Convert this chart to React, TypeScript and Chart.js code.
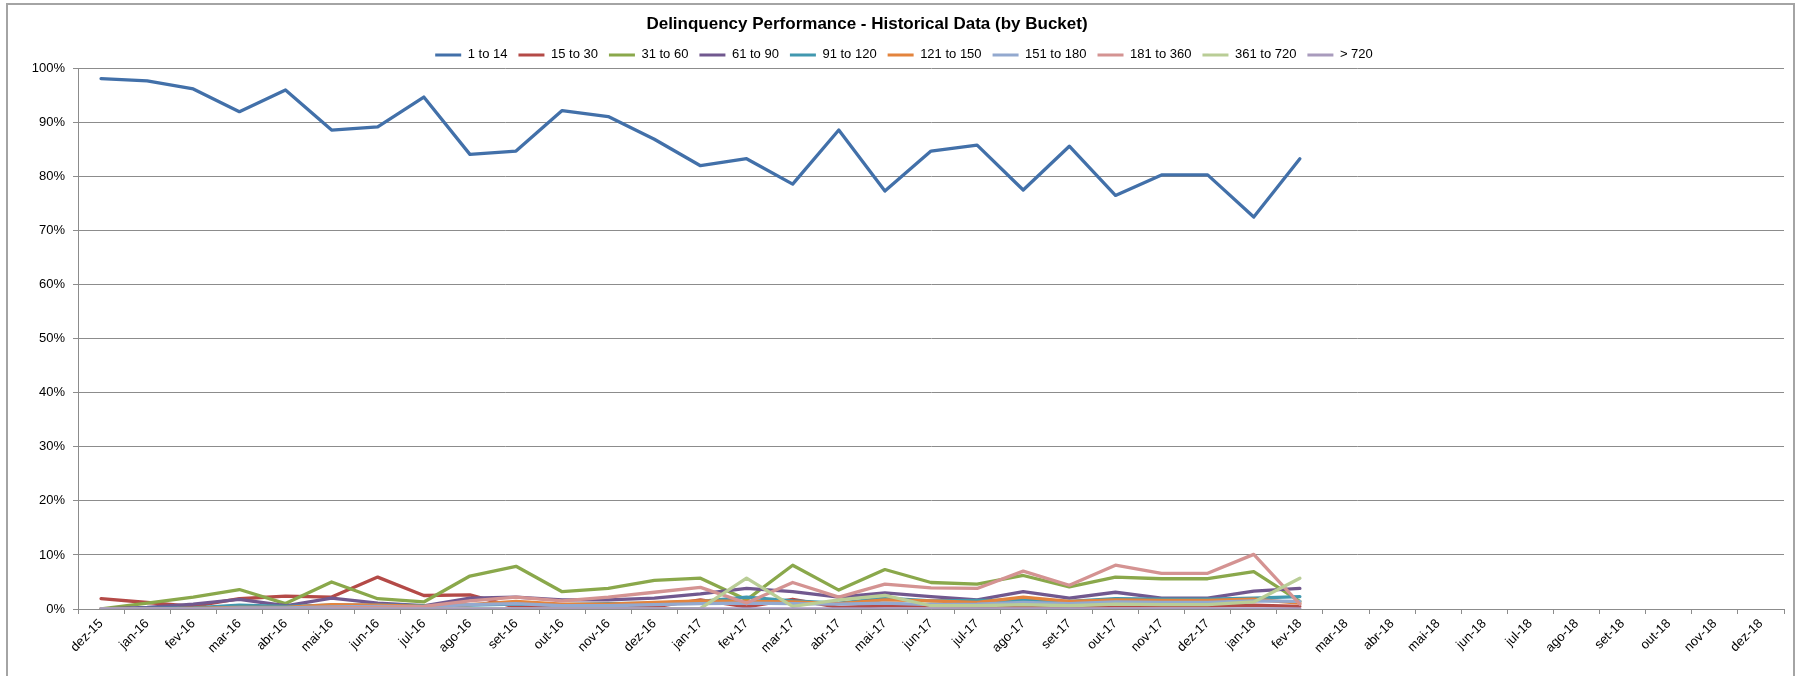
import React, { useEffect, useRef } from "react";
import { Chart, registerables } from "chart.js";

Chart.register(...registerables);

const categories = [
  "dez-15", "jan-16", "fev-16", "mar-16", "abr-16", "mai-16", "jun-16", "jul-16", "ago-16", "set-16",
  "out-16", "nov-16", "dez-16", "jan-17", "fev-17", "mar-17", "abr-17", "mai-17", "jun-17", "jul-17",
  "ago-17", "set-17", "out-17", "nov-17", "dez-17", "jan-18", "fev-18", "mar-18", "abr-18", "mai-18",
  "jun-18", "jul-18", "ago-18", "set-18", "out-18", "nov-18", "dez-18",
];

// values in percent
const b1to14 = [98.1, 97.7, 96.2, 92.0, 96.0, 88.6, 89.2, 94.7, 84.1, 84.7, 92.2, 91.1, 86.9, 82.0, 83.3, 78.6, 88.6, 77.3, 84.7, 85.8, 77.5, 85.6, 76.5, 80.3, 80.3, 72.5, 83.3];
const b15to30 = [1.9, 1.2, 0.5, 1.9, 2.4, 2.2, 5.9, 2.5, 2.6, 0.3, 0.2, 0.3, 0.4, 1.7, 0.4, 1.8, 0.3, 0.6, 0.6, 0.5, 0.6, 0.5, 0.6, 0.6, 0.6, 0.7, 0.5];
const b31to60 = [0.0, 1.1, 2.2, 3.6, 1.0, 5.0, 1.9, 1.3, 6.1, 7.9, 3.2, 3.8, 5.3, 5.7, 1.7, 8.1, 3.5, 7.3, 4.9, 4.6, 6.2, 4.1, 5.9, 5.6, 5.6, 6.9, 1.4];
const b61to90 = [0.0, 0.3, 0.9, 1.8, 0.6, 2.0, 1.1, 0.6, 2.0, 2.2, 1.7, 1.7, 2.0, 2.8, 3.8, 3.2, 2.2, 3.0, 2.3, 1.7, 3.2, 2.0, 3.1, 2.0, 2.0, 3.3, 3.8];
const b91to120 = [0.0, 0.1, 0.2, 0.7, 0.5, 0.7, 0.7, 0.6, 0.7, 0.9, 0.8, 1.0, 1.1, 1.4, 2.2, 1.5, 1.1, 2.0, 1.5, 1.6, 1.6, 1.4, 1.9, 1.8, 1.8, 2.0, 2.3];
const b121to150 = [0.0, 0.0, 0.1, 0.3, 0.3, 0.8, 0.7, 0.5, 0.8, 1.4, 0.9, 0.9, 1.2, 1.5, 1.4, 1.3, 1.0, 1.7, 1.5, 1.2, 2.2, 1.4, 1.7, 1.6, 1.6, 1.8, 1.1];
const b151to180 = [0.0, 0.0, 0.0, 0.2, 0.2, 0.4, 0.5, 0.4, 0.8, 1.0, 0.6, 0.6, 0.8, 1.0, 1.1, 1.0, 0.9, 1.1, 0.8, 0.9, 1.2, 1.0, 1.3, 1.2, 1.2, 1.5, 1.4];
const b181to360 = [0.0, 0.0, 0.0, 0.0, 0.0, 0.2, 0.3, 0.5, 1.5, 2.2, 1.5, 2.2, 3.1, 4.0, 1.1, 4.9, 2.2, 4.6, 3.9, 3.8, 7.0, 4.4, 8.1, 6.6, 6.6, 10.1, 0.9];
const b361to720 = [0.0, 0.0, 0.0, 0.0, 0.0, 0.0, 0.0, 0.0, 0.0, 0.0, 0.0, 0.0, 0.0, 0.1, 5.7, 0.5, 1.7, 2.5, 0.6, 0.6, 0.8, 0.6, 0.9, 0.8, 0.8, 1.3, 5.7];
const bOver720 = [0, 0, 0, 0, 0, 0, 0, 0, 0, 0, 0, 0, 0, 0, 0, 0, 0, 0, 0, 0, 0, 0, 0, 0, 0, 0, 0];

const seriesNames = ["1 to 14", "15 to 30", "31 to 60", "61 to 90", "91 to 120", "121 to 150", "151 to 180", "181 to 360", "361 to 720", "> 720"];
const seriesColors = ["#4270A9", "#B44A47", "#8AA84B", "#71588F", "#4198AF", "#E3843D", "#93A9CF", "#D49392", "#B9CD96", "#A99BBD"];

const titleText = "Delinquency Performance - Historical Data (by Bucket)";

const FONT = "'Liberation Sans', Arial, sans-serif";
const GRID = "#8c8c8c";

export default function App() {
  const ref = useRef<HTMLCanvasElement>(null);

  useEffect(() => {
    if (!ref.current) return;
    const series = [b1to14, b15to30, b31to60, b61to90, b91to120, b121to150, b151to180, b181to360, b361to720, bOver720];

    const shiftTitle = {
      id: "shiftTitle",
      afterLayout(chart: any) {
        const t = chart.titleBlock;
        if (t) {
          t.left -= 37;
          t.right -= 37;
        }
      },
    };

    const chart = new Chart(ref.current, {
      type: "line",
      data: {
        labels: categories,
        datasets: series.map((d, i) => ({
          label: seriesNames[i],
          data: d.map((v) => v / 100),
          borderColor: seriesColors[i],
          backgroundColor: seriesColors[i],
          borderWidth: 3.3,
          pointRadius: 0,
          pointHoverRadius: 0,
          tension: 0,
          fill: false,
          borderJoinStyle: "round",
          borderCapStyle: "round",
          order: series.length - i,
        })),
      },
      options: {
        responsive: false,
        animation: false,
        layout: { padding: { left: 24, right: 13, top: 8, bottom: 0 } },
        plugins: {
          title: {
            display: true,
            text: titleText,
            color: "#000",
            font: { family: FONT, size: 17, weight: "bold" },
            padding: { top: 6, bottom: 3 },
          },
          legend: {
            display: true,
            position: "top",
            maxHeight: 31,
            labels: {
              boxWidth: 26,
              boxHeight: 3,
              padding: 11,
              color: "#000",
              font: { family: FONT, size: 13 },
              sort: (a: any, b: any) => a.datasetIndex - b.datasetIndex,
              generateLabels: (chart: any) =>
                Chart.defaults.plugins.legend.labels
                  .generateLabels(chart)
                  .map((it: any) => ({ ...it, fillStyle: it.strokeStyle, lineWidth: 0 })),
            },
          },
          tooltip: { enabled: false },
        },
        scales: {
          x: {
            offset: true,
            grid: { display: true, offset: true, drawOnChartArea: false, drawTicks: true, tickLength: 5, color: GRID },
            border: { display: true, color: GRID, width: 1 },
            ticks: {
              autoSkip: false,
              maxRotation: 45,
              minRotation: 45,
              padding: 2,
              color: "#000",
              font: { family: FONT, size: 13 },
            },
            afterFit: (s: any) => {
              s.height = 67;
            },
          },
          y: {
            min: 0,
            max: 1,
            ticks: {
              stepSize: 0.1,
              padding: 8,
              color: "#000",
              font: { family: FONT, size: 13 },
              callback: (v: any) => Math.round(Number(v) * 100) + "%",
            },
            grid: { color: GRID, tickLength: 5, drawTicks: true },
            border: { display: true, color: GRID, width: 1 },
            afterFit: (s: any) => {
              s.width = 54;
            },
          },
        },
      },
      plugins: [shiftTitle],
    } as any);

    return () => chart.destroy();
  }, []);

  return (
    <div style={{ position: "fixed", left: 0, top: 0, width: 1797, height: 676, overflow: "hidden", background: "#fff" }}>
      <canvas ref={ref} width={1797} height={676} style={{ position: "absolute", left: 0, top: 0, width: 1797, height: 676 }} />
      <div
        style={{
          position: "absolute",
          left: 6,
          top: 3,
          width: 1789,
          height: 800,
          boxSizing: "border-box",
          border: "2px solid #a4a4a4",
          pointerEvents: "none",
        }}
      />
    </div>
  );
}
